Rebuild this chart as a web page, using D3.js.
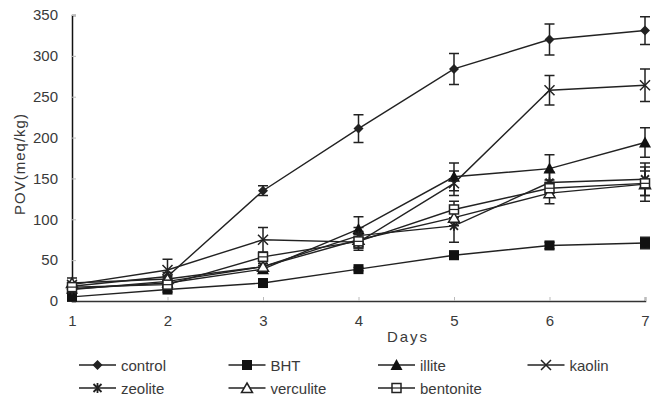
<!DOCTYPE html>
<html>
<head>
<meta charset="utf-8">
<script src="https://cdn.jsdelivr.net/npm/d3@7/dist/d3.min.js"></script>
<style>
  body { margin: 0; background: #fff; }
  text { font-family: "Liberation Sans", Arial, sans-serif; fill: #3a3a3a; }
</style>
</head>
<body>
<div id="chart"></div>
<script>
// values
const days = [1, 2, 3, 4, 5, 6, 7];
const yTicks = [0, 50, 100, 150, 200, 250, 300, 350];

const seriesNames = ['control', 'BHT', 'illite', 'kaolin', 'zeolite', 'verculite', 'bentonite'];

const controlVals = [18, 30, 135, 211, 284, 320, 331];
const controlErr = [3, 5, 6, 17, 19, 19, 17];
const bhtVals = [5, 14, 22, 39, 56, 68, 71];
const bhtErr = [2, 3, 3, 2, 5, 4, 7];
const illiteVals = [15, 22, 39, 88, 152, 162, 194];
const illiteErr = [3, 4, 4, 15, 17, 17, 18];
const kaolinVals = [20, 38, 75, 72, 144, 258, 264];
const kaolinErr = [3, 13, 15, 10, 15, 18, 20];
const zeoliteVals = [14, 24, 42, 80, 92, 145, 149];
const zeoliteErr = [3, 4, 4, 10, 20, 13, 20];
const verculiteVals = [22, 27, 42, 75, 102, 132, 143];
const verculiteErr = [6, 4, 4, 10, 10, 13, 21];
const bentoniteVals = [17, 20, 54, 73, 112, 138, 144];
const bentoniteErr = [3, 3, 5, 8, 10, 10, 15];

const series = [
  { name: 'control', vals: controlVals, err: controlErr, mark: 'diamond' },
  { name: 'BHT', vals: bhtVals, err: bhtErr, mark: 'square' },
  { name: 'illite', vals: illiteVals, err: illiteErr, mark: 'triangle' },
  { name: 'kaolin', vals: kaolinVals, err: kaolinErr, mark: 'cross' },
  { name: 'zeolite', vals: zeoliteVals, err: zeoliteErr, mark: 'star' },
  { name: 'verculite', vals: verculiteVals, err: verculiteErr, mark: 'openTriangle' },
  { name: 'bentonite', vals: bentoniteVals, err: bentoniteErr, mark: 'openSquare' }
];

const W = 663, H = 397;
const margin = { top: 15, left: 72, right: 18, bottom: 96 };
const ink = '#222';

const svg = d3.select('#chart').append('svg')
  .attr('width', W)
  .attr('height', H);

const x = d3.scaleLinear().domain([1, 7]).range([margin.left, W - margin.right]);
const y = d3.scaleLinear().domain([0, 350]).range([H - margin.bottom, margin.top]);

// axes
const xAxis = svg.append('g')
  .attr('transform', `translate(0, ${y(0)})`)
  .call(d3.axisBottom(x).tickValues(days).tickSize(-4).tickPadding(14).tickFormat(d3.format('d')));
xAxis.select('.domain').attr('stroke', '#333').attr('stroke-width', 1.5);
xAxis.selectAll('.tick line').attr('stroke', '#bbb');
xAxis.selectAll('.tick text').style('font-size', '15px').attr('fill', '#3a3a3a');

const yAxis = svg.append('g')
  .attr('transform', `translate(${x(1)}, 0)`)
  .call(d3.axisLeft(y).tickValues(yTicks).tickSize(-4).tickPadding(14));
yAxis.select('.domain').attr('stroke', '#111').attr('stroke-width', 1.5);
yAxis.selectAll('.tick line').attr('stroke', '#bbb');
yAxis.selectAll('.tick text').style('font-size', '15px').attr('fill', '#3a3a3a');

svg.append('text')
  .attr('transform', `translate(25, 164) rotate(-90)`)
  .attr('text-anchor', 'middle')
  .style('font-size', '15px')
  .style('letter-spacing', '1px')
  .text('POV(meq/kg)');

svg.append('text')
  .attr('x', 408)
  .attr('y', 342)
  .attr('text-anchor', 'middle')
  .style('font-size', '15px')
  .style('letter-spacing', '2px')
  .text('Days');

function drawMark(g, type) {
  if (type === 'diamond') {
    g.append('path').attr('d', 'M0,-5L5,0L0,5L-5,0Z').attr('fill', ink);
  } else if (type === 'square') {
    g.append('rect').attr('x', -5).attr('y', -5).attr('width', 10).attr('height', 10).attr('fill', '#111');
  } else if (type === 'triangle') {
    g.append('path').attr('d', 'M0,-6L6,5L-6,5Z').attr('fill', '#111');
  } else if (type === 'cross') {
    g.append('path').attr('d', 'M-5,-5L5,5M-5,5L5,-5').attr('stroke', ink).attr('stroke-width', 1.5);
  } else if (type === 'star') {
    g.append('path').attr('d', 'M-4,-4L4,4M-4,4L4,-4M0,-5L0,5').attr('stroke', ink).attr('stroke-width', 1.8);
  } else if (type === 'openTriangle') {
    g.append('path').attr('d', 'M0,-5L5.5,4.5L-5.5,4.5Z').attr('fill', '#fff').attr('stroke', ink).attr('stroke-width', 1.5);
  } else if (type === 'openSquare') {
    g.append('rect').attr('x', -4.5).attr('y', -4.5).attr('width', 9).attr('height', 9)
      .attr('fill', '#fff').attr('stroke', ink).attr('stroke-width', 1.5);
    g.append('path').attr('d', 'M-4.5,0L4.5,0').attr('stroke', ink).attr('stroke-width', 1.2);
  }
}

const line = d3.line()
  .x((d, i) => x(days[i]))
  .y(d => y(d));

const plot = svg.append('g');

// lines first
series.forEach(s => {
  plot.append('path')
    .datum(s.vals)
    .attr('fill', 'none')
    .attr('stroke', ink)
    .attr('stroke-width', 1.4)
    .attr('d', line);
});

// error bars
series.forEach(s => {
  const eb = plot.append('g');
  s.vals.forEach((v, i) => {
    const cx = x(days[i]);
    const top = y(v + s.err[i]);
    const bot = y(v - s.err[i]);
    eb.append('path')
      .attr('d', `M${cx},${top}L${cx},${bot}M${cx - 5},${top}L${cx + 5},${top}M${cx - 5},${bot}L${cx + 5},${bot}`)
      .attr('stroke', ink)
      .attr('stroke-width', 1.5)
      .attr('fill', 'none');
  });
});

// markers
series.forEach(s => {
  s.vals.forEach((v, i) => {
    const g = plot.append('g').attr('transform', `translate(${x(days[i])}, ${y(v)})`);
    drawMark(g, s.mark);
  });
});

// legend
const legend = svg.append('g');
series.forEach((s, i) => {
  const col = i % 4, row = Math.floor(i / 4);
  const lx = 79 + col * 149.5, ly = 365 + row * 23;
  const g = legend.append('g').attr('transform', `translate(${lx}, ${ly})`);
  g.append('line').attr('x1', 0).attr('x2', 37).attr('y1', 0).attr('y2', 0)
    .attr('stroke', ink).attr('stroke-width', 1.4);
  drawMark(g.append('g').attr('transform', 'translate(18.5, 0)'), s.mark);
  g.append('text').attr('x', 42).attr('y', 5.5)
    .style('font-size', '15px')
    .text(s.name);
});
</script>
</body>
</html>
